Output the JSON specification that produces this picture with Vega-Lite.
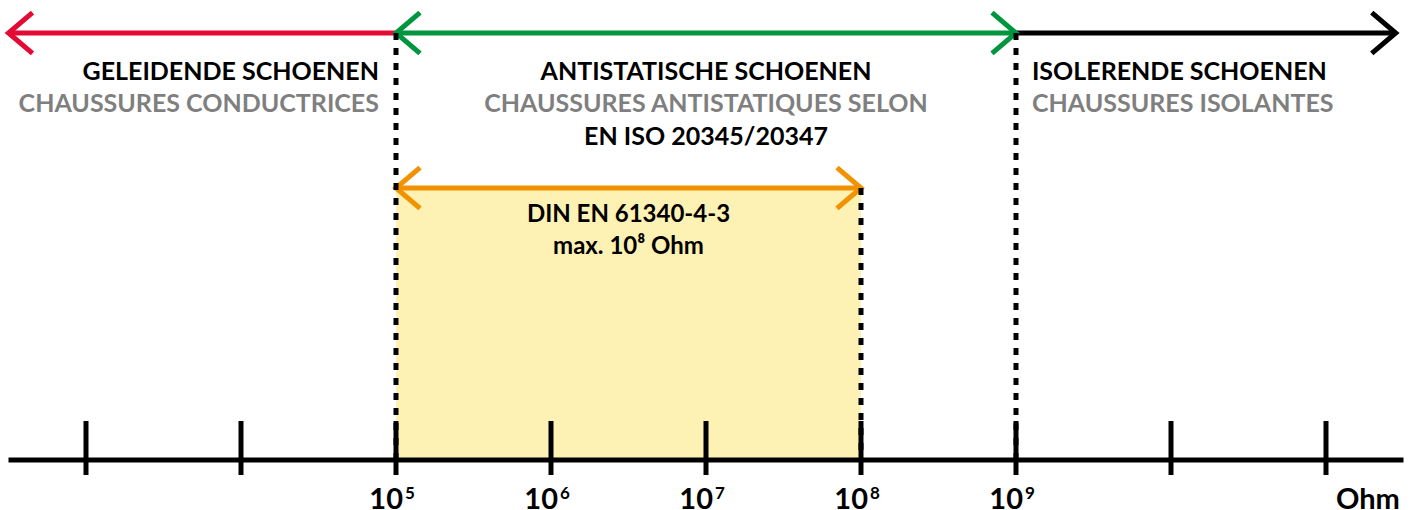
{
  "$schema": "https://vega.github.io/schema/vega-lite/v6.json",
  "width": 1413,
  "height": 510,
  "padding": 0,
  "autosize": {"type": "none"},
  "background": "white",
  "config": {"view": {"stroke": null}},
  "resolve": {"scale": {"color": "independent"}},
  "datasets": {
    "zone": [{"from": 5, "to": 8, "top": 188, "bottom": 460}],
    "baseline": [{"from": 2.5, "to": 11.5, "level": 460}],
    "ticks": [
      {"at": 3, "top": 421, "bottom": 475},
      {"at": 4, "top": 421, "bottom": 475},
      {"at": 5, "top": 421, "bottom": 475},
      {"at": 6, "top": 421, "bottom": 475},
      {"at": 7, "top": 421, "bottom": 475},
      {"at": 8, "top": 421, "bottom": 475},
      {"at": 9, "top": 421, "bottom": 475},
      {"at": 10, "top": 421, "bottom": 475},
      {"at": 11, "top": 421, "bottom": 475}
    ],
    "bounds": [
      {"at": 5, "top": 33, "bottom": 460},
      {"at": 9, "top": 33, "bottom": 460},
      {"at": 8, "top": 188, "bottom": 460}
    ],
    "arrows": [
      {"class": "geleidend", "from": 2.5, "to": 5, "level": 33},
      {"class": "antistatisch", "from": 5, "to": 9, "level": 33},
      {"class": "isolerend", "from": 9, "to": 11.45, "level": 33},
      {"class": "din", "from": 5, "to": 8, "level": 188}
    ],
    "heads": [
      {"class": "geleidend", "at": 2.5, "level": 33, "dir": "left"},
      {"class": "antistatisch", "at": 5, "level": 33, "dir": "left"},
      {"class": "antistatisch", "at": 9, "level": 33, "dir": "right"},
      {"class": "isolerend", "at": 11.45, "level": 33, "dir": "right"},
      {"class": "din", "at": 5, "level": 188, "dir": "left"},
      {"class": "din", "at": 8, "level": 188, "dir": "right"}
    ],
    "titlesRight": [
      {"at": 4.89, "level": 80, "kind": "nl", "text": "GELEIDENDE SCHOENEN"},
      {"at": 4.89, "level": 112, "kind": "fr", "text": "CHAUSSURES CONDUCTRICES"}
    ],
    "titlesCenter": [
      {"at": 7, "level": 80, "kind": "nl", "text": "ANTISTATISCHE SCHOENEN"},
      {"at": 7, "level": 112, "kind": "fr", "text": "CHAUSSURES ANTISTATIQUES SELON"},
      {"at": 7, "level": 145, "kind": "norm", "text": "EN ISO 20345/20347"}
    ],
    "titlesLeft": [
      {"at": 9.103, "level": 80, "kind": "nl", "text": "ISOLERENDE SCHOENEN"},
      {"at": 9.103, "level": 112, "kind": "fr", "text": "CHAUSSURES ISOLANTES"}
    ],
    "din": [
      {"at": 6.5, "level": 222, "text": "DIN EN 61340-4-3"},
      {"at": 6.5, "level": 254, "text": "max. 10⁸ Ohm"}
    ],
    "powers": [
      {"at": 5, "base": "10", "exponent": "5"},
      {"at": 6, "base": "10", "exponent": "6"},
      {"at": 7, "base": "10", "exponent": "7"},
      {"at": 8, "base": "10", "exponent": "8"},
      {"at": 9, "base": "10", "exponent": "9"}
    ],
    "unit": [{"at": 11.27, "label": "Ohm"}]
  },
  "layer": [
    {
      "data": {"name": "zone"},
      "mark": {"type": "rect", "color": "#FDF1B3"},
      "encoding": {
        "x": {"field": "from", "type": "quantitative", "scale": {"domain": [2.4452, 11.5613], "nice": false, "zero": false}, "axis": null},
        "x2": {"field": "to"},
        "y": {"field": "top", "type": "quantitative", "scale": {"domain": [0, 510], "reverse": true, "nice": false, "zero": false}, "axis": null},
        "y2": {"field": "bottom"}
      }
    },
    {
      "data": {"name": "baseline"},
      "mark": {"type": "rule", "color": "black", "strokeWidth": 5, "strokeCap": "butt"},
      "encoding": {
        "x": {"field": "from", "type": "quantitative"},
        "x2": {"field": "to"},
        "y": {"field": "level", "type": "quantitative"}
      }
    },
    {
      "data": {"name": "ticks"},
      "mark": {"type": "rule", "color": "black", "strokeWidth": 5, "strokeCap": "butt"},
      "encoding": {
        "x": {"field": "at", "type": "quantitative"},
        "y": {"field": "top", "type": "quantitative"},
        "y2": {"field": "bottom"}
      }
    },
    {
      "data": {"name": "arrows"},
      "mark": {"type": "rule", "strokeWidth": 5, "strokeCap": "butt"},
      "encoding": {
        "x": {"field": "from", "type": "quantitative"},
        "x2": {"field": "to"},
        "y": {"field": "level", "type": "quantitative"},
        "color": {"field": "class", "type": "nominal", "scale": {"domain": ["geleidend", "antistatisch", "isolerend", "din"], "range": ["#E30A34", "#009640", "#000000", "#F39200"]}, "legend": null}
      }
    },
    {
      "data": {"name": "heads"},
      "mark": {"type": "point", "filled": false, "opacity": 1, "strokeWidth": 5, "strokeCap": "butt", "strokeJoin": "miter", "size": 2304},
      "encoding": {
        "x": {"field": "at", "type": "quantitative"},
        "y": {"field": "level", "type": "quantitative"},
        "shape": {"field": "dir", "type": "nominal", "scale": {"domain": ["left", "right"], "range": ["M1,-0.85L0,0L1,0.85", "M-1,-0.85L0,0L-1,0.85"]}, "legend": null},
        "color": {"field": "class", "type": "nominal", "scale": {"domain": ["geleidend", "antistatisch", "isolerend", "din"], "range": ["#E30A34", "#009640", "#000000", "#F39200"]}, "legend": null}
      }
    },
    {
      "data": {"name": "bounds"},
      "mark": {"type": "rule", "color": "black", "strokeWidth": 5, "strokeCap": "butt", "strokeDash": [7, 8]},
      "encoding": {
        "x": {"field": "at", "type": "quantitative"},
        "y": {"field": "top", "type": "quantitative"},
        "y2": {"field": "bottom"}
      }
    },
    {
      "data": {"name": "titlesRight"},
      "mark": {"type": "text", "align": "right", "baseline": "alphabetic", "font": "Lato", "fontWeight": "bold", "fontSize": 25},
      "encoding": {
        "x": {"field": "at", "type": "quantitative"},
        "y": {"field": "level", "type": "quantitative"},
        "text": {"field": "text"},
        "color": {"field": "kind", "type": "nominal", "scale": {"domain": ["nl", "fr", "norm"], "range": ["#000000", "#7F7F7F", "#000000"]}, "legend": null}
      }
    },
    {
      "data": {"name": "titlesCenter"},
      "mark": {"type": "text", "align": "center", "baseline": "alphabetic", "font": "Lato", "fontWeight": "bold", "fontSize": 25},
      "encoding": {
        "x": {"field": "at", "type": "quantitative"},
        "y": {"field": "level", "type": "quantitative"},
        "text": {"field": "text"},
        "color": {"field": "kind", "type": "nominal", "scale": {"domain": ["nl", "fr", "norm"], "range": ["#000000", "#7F7F7F", "#000000"]}, "legend": null}
      }
    },
    {
      "data": {"name": "titlesLeft"},
      "mark": {"type": "text", "align": "left", "baseline": "alphabetic", "font": "Lato", "fontWeight": "bold", "fontSize": 25},
      "encoding": {
        "x": {"field": "at", "type": "quantitative"},
        "y": {"field": "level", "type": "quantitative"},
        "text": {"field": "text"},
        "color": {"field": "kind", "type": "nominal", "scale": {"domain": ["nl", "fr", "norm"], "range": ["#000000", "#7F7F7F", "#000000"]}, "legend": null}
      }
    },
    {
      "data": {"name": "din"},
      "mark": {"type": "text", "align": "center", "baseline": "alphabetic", "font": "Lato", "fontWeight": "bold", "fontSize": 24, "color": "black"},
      "encoding": {
        "x": {"field": "at", "type": "quantitative"},
        "y": {"field": "level", "type": "quantitative"},
        "text": {"field": "text"}
      }
    },
    {
      "data": {"name": "powers"},
      "mark": {"type": "text", "align": "right", "baseline": "alphabetic", "font": "Lato", "fontWeight": "bold", "fontSize": 29, "color": "black", "y": 509, "dx": 7},
      "encoding": {
        "x": {"field": "at", "type": "quantitative"},
        "text": {"field": "base"}
      }
    },
    {
      "data": {"name": "powers"},
      "mark": {"type": "text", "align": "left", "baseline": "top", "font": "Lato", "fontWeight": "bold", "fontSize": 17, "color": "black", "y": 486, "dx": 9},
      "encoding": {
        "x": {"field": "at", "type": "quantitative"},
        "text": {"field": "exponent"}
      }
    },
    {
      "data": {"name": "unit"},
      "mark": {"type": "text", "align": "center", "baseline": "alphabetic", "font": "Lato", "fontWeight": "bold", "fontSize": 29, "color": "black", "y": 509},
      "encoding": {
        "x": {"field": "at", "type": "quantitative"},
        "text": {"field": "label"}
      }
    }
  ]
}
